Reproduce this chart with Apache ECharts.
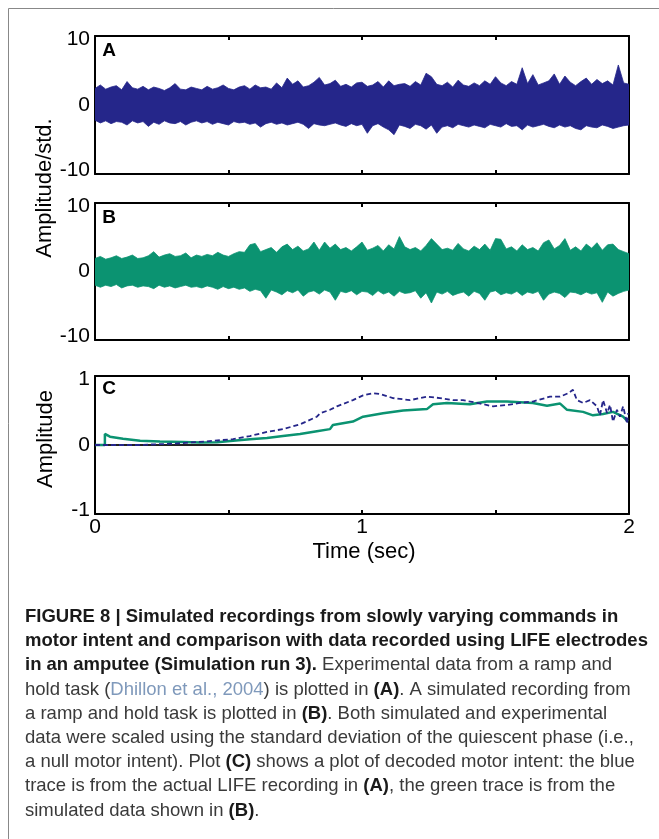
<!DOCTYPE html>
<html>
<head>
<meta charset="utf-8">
<script src="https://cdn.jsdelivr.net/npm/echarts@6/dist/echarts.min.js"></script>
<style>
  html, body { margin: 0; padding: 0; background: #fff; }
  #chart { width: 659px; height: 839px; }
</style>
</head>
<body>
<div id="chart"></div>
<script>
// recordings sampled every 0.02 s, envelope (peak / trough) per sample
const noiseStep = 0.02
const aTop = [
  2.4, 2.9, 2.3, 2.6, 2.8, 2.2, 3.4, 2.5, 2.3, 2.7,
  2.2, 2.6, 2.4, 2.1, 2.5, 3.1, 2.3, 2.2, 2.6, 2.4,
  2.2, 2.7, 2.3, 2.5, 2.9, 2.4, 2.2, 2.6, 2.8, 2.3,
  2.9, 2.5, 2.6, 2.3, 3.2, 2.5, 3.9, 3.0, 3.5, 2.6,
  2.8, 3.3, 4.0, 2.9, 3.1, 3.6, 2.7, 3.0, 2.6, 3.2,
  3.3, 2.7, 2.9, 3.4, 2.6, 3.5, 2.8, 3.0, 3.1, 2.7,
  3.4, 2.9, 4.6, 4.1, 3.0, 2.8, 3.3, 2.6, 3.6, 2.9,
  2.7, 3.2, 2.8, 3.5, 3.0, 4.1, 3.2, 2.8, 3.4, 3.0,
  5.4, 3.1, 4.4, 2.9, 3.2, 3.5, 4.5, 3.0, 4.2, 3.3,
  2.8, 3.4, 3.9, 3.0, 3.7, 3.1, 3.5, 2.9, 5.8, 3.2, 3.0,
]
const aBot = [
  -2.2, -2.6, -2.3, -2.7, -2.4, -2.5, -2.9, -2.3, -2.6, -2.4,
  -3.1, -2.5, -2.8, -2.3, -2.6, -2.7, -2.4, -2.9, -2.5, -2.3,
  -2.6, -2.4, -2.8, -2.5, -2.7, -2.9, -2.4, -2.6, -2.5, -2.8,
  -2.6, -3.2, -2.7, -2.5, -2.8, -2.6, -2.9, -2.7, -2.5, -2.8,
  -3.4, -2.7, -2.9, -3.0, -2.8, -2.6, -2.9, -3.1, -2.7, -3.0,
  -2.8, -4.1, -3.0, -2.7, -3.2, -3.6, -4.3, -2.9, -3.1, -3.4,
  -2.8, -3.0, -3.5, -2.9, -4.1, -3.2, -3.0, -3.3, -2.8, -3.0,
  -3.2, -2.9, -3.1, -3.3, -2.8, -3.0, -3.2, -2.7, -3.1, -3.0,
  -3.6, -2.9, -3.2, -3.0, -2.8, -3.1, -3.3, -2.9, -3.2, -3.0,
  -3.4, -3.6, -3.0, -3.2, -3.3, -2.9, -3.1, -3.4, -3.2, -3.0, -2.9,
]
const bTop = [
  1.9, 2.2, 1.8, 2.0, 2.3, 1.9, 2.1, 2.4, 1.9, 2.0,
  2.3, 2.9, 2.1, 2.4, 2.6, 2.2, 2.3, 2.7, 2.0, 2.4,
  2.2, 2.5, 2.3, 2.8, 2.4, 2.2, 2.6, 2.9, 2.8, 3.9,
  4.1, 2.9, 3.2, 3.5, 2.8, 3.6, 4.0, 3.2, 3.7, 3.0,
  3.3, 4.3, 3.1, 4.3, 3.4, 4.0, 3.2, 3.5, 3.0, 3.6,
  4.3, 3.1, 3.4, 3.8, 3.0, 3.9, 3.3, 5.1, 3.6, 3.2,
  3.5, 3.0, 3.8, 4.8, 4.0, 3.2, 3.4, 3.1, 4.1, 3.3,
  3.0, 3.7, 3.2, 4.0, 3.1, 4.8, 4.7, 3.3, 3.6, 3.0,
  3.9, 3.2, 3.5, 3.0, 4.2, 4.6, 3.3, 3.8, 4.8, 3.1,
  3.6, 3.0, 4.0, 3.4, 4.2, 3.1, 3.9, 4.0, 3.2, 2.9, 2.6,
]
const bBot = [
  -2.0, -2.3, -2.0, -2.2, -1.9, -2.4, -2.1, -2.0, -2.3, -2.1,
  -2.2, -2.5, -2.0, -2.3, -2.1, -2.4, -2.2, -2.0, -2.3, -2.2,
  -2.4, -2.1, -2.3, -2.6, -2.2, -2.5, -2.3, -2.6, -2.4, -2.9,
  -2.6, -2.8, -3.9, -2.7, -3.0, -3.4, -2.8, -3.1, -2.7, -3.6,
  -3.0, -2.8, -3.3, -2.7, -3.0, -4.2, -2.9, -3.1, -2.8, -3.4,
  -2.9, -3.0, -3.5, -2.8, -3.3, -3.0, -3.6, -2.9, -3.2, -3.1,
  -2.8, -3.9, -3.1, -4.6, -3.0, -3.3, -2.9, -3.5, -3.2, -3.0,
  -3.6, -2.9, -3.2, -4.2, -3.0, -2.8, -3.4, -3.1, -3.3, -2.9,
  -3.5, -3.0, -3.2, -2.9, -4.2, -3.3, -3.0, -3.2, -3.8, -3.0,
  -3.1, -3.4, -3.0, -3.3, -3.1, -4.5, -3.0, -3.6, -3.2, -2.9, -2.7,
]

// decoded motor intent (panel C)
const greenT = [0, 0.037, 0.037, 0.056, 0.105, 0.169, 0.243, 0.33, 0.393, 0.457, 0.517, 0.58,
  0.644, 0.704, 0.768, 0.831, 0.88, 0.891, 0.966, 1.004, 1.079, 1.154, 1.243, 1.266,
  1.318, 1.404, 1.468, 1.543, 1.64, 1.693, 1.742, 1.768, 1.828, 1.865, 1.903, 1.94, 1.978, 1.996]
const greenV = [0, 0, 0.16, 0.12, 0.09, 0.06, 0.05, 0.045, 0.035, 0.04, 0.06, 0.085,
  0.1, 0.13, 0.16, 0.2, 0.23, 0.29, 0.34, 0.41, 0.46, 0.5, 0.52, 0.59,
  0.61, 0.59, 0.63, 0.63, 0.61, 0.57, 0.6, 0.51, 0.48, 0.43, 0.45, 0.48, 0.41, 0.34]
const blueT = [0, 0.16, 0.3, 0.442, 0.517, 0.58, 0.644, 0.704, 0.768, 0.831, 0.843, 0.88,
  0.906, 0.966, 1.004, 1.041, 1.067, 1.116, 1.18, 1.243, 1.292, 1.341, 1.378, 1.431,
  1.491, 1.543, 1.592, 1.64, 1.704, 1.742, 1.772, 1.79, 1.805, 1.828, 1.854, 1.88,
  1.891, 1.903, 1.918, 1.929, 1.94, 1.955, 1.966, 1.978, 1.993, 1.996]
const blueV = [0, 0, 0.02, 0.06, 0.085, 0.13, 0.19, 0.23, 0.3, 0.41, 0.46, 0.51,
  0.56, 0.65, 0.72, 0.75, 0.74, 0.68, 0.65, 0.7, 0.68, 0.65, 0.65, 0.61,
  0.56, 0.58, 0.61, 0.63, 0.7, 0.7, 0.75, 0.8, 0.65, 0.61, 0.65, 0.56,
  0.43, 0.65, 0.46, 0.58, 0.34, 0.51, 0.41, 0.56, 0.31, 0.46]

const xTickLabels = ['0', '1', '2']
const yTicksAB = [-10, 0, 10]
const yTicksC = [-1, 0, 1]

const BLUE = '#25268a'
const GREEN = '#0b9371'
const FONT = 'Liberation Sans, Arial, sans-serif'

const chart = echarts.init(document.getElementById('chart'))

const grids = [
  { left: 95, top: 36, width: 534, height: 138 },
  { left: 95, top: 203, width: 534, height: 137 },
  { left: 95, top: 376, width: 534, height: 138 },
]

const boxLine = { show: true, onZero: false, lineStyle: { color: '#000', width: 2 } }
const tickFont = { fontSize: 21, fontFamily: FONT, color: '#000' }

const xAxis = []
const yAxis = []
grids.forEach((g, i) => {
  const last = i === 2
  xAxis.push({
    type: 'value', gridIndex: i, min: 0, max: 2, interval: 0.5, position: 'bottom',
    axisLine: boxLine,
    axisTick: { show: true, inside: true, length: 4, lineStyle: { color: '#000', width: 2 } },
    axisLabel: {
      show: last, margin: 3, ...tickFont,
      formatter: (v) => (xTickLabels.includes(String(v)) ? String(v) : ''),
    },
    splitLine: { show: false },
  })
  xAxis.push({
    type: 'value', gridIndex: i, min: 0, max: 2, interval: 0.5, position: 'top',
    axisLine: boxLine,
    axisTick: { show: true, inside: true, length: 4, lineStyle: { color: '#000', width: 2 } },
    axisLabel: { show: false },
    splitLine: { show: false },
  })
  const ticks = last ? yTicksC : yTicksAB
  yAxis.push({
    type: 'value', gridIndex: i, position: 'left',
    min: ticks[0], max: ticks[2], interval: ticks[2],
    axisLine: boxLine,
    axisTick: { show: true, inside: true, length: 4, lineStyle: { color: '#000', width: 2 } },
    axisLabel: {
      margin: 5, ...tickFont,
      // end labels sit a little inside the box, as in the original
      formatter: (v) => (v === ticks[2] ? `{hi|${v}}` : v === ticks[0] ? `{lo|${v}}` : `${v}`),
      rich: {
        hi: { ...tickFont, padding: [7, 0, 0, 0] },
        lo: { ...tickFont, padding: [0, 0, 7, 0] },
      },
    },
    splitLine: { show: false },
  })
  yAxis.push({
    type: 'value', gridIndex: i, position: 'right',
    min: ticks[0], max: ticks[2], interval: ticks[2],
    axisLine: boxLine,
    axisTick: { show: false },
    axisLabel: { show: false },
    splitLine: { show: false },
  })
})

// noise band: polygon through the peaks, back along the troughs
function band(top, bot, color, axis) {
  return {
    type: 'custom', coordinateSystem: 'cartesian2d', xAxisIndex: axis, yAxisIndex: axis,
    silent: true, animation: false, clip: true,
    data: [[1, 0]],
    renderItem(params, api) {
      const pts = top.map((v, i) => api.coord([i * noiseStep, v]))
      for (let i = bot.length - 1; i >= 0; i--) pts.push(api.coord([i * noiseStep, bot[i]]))
      return {
        type: 'polygon',
        shape: { points: pts },
        style: { fill: color, stroke: color, lineWidth: 0.8 },
      }
    },
  }
}

const series = [
  band(aTop, aBot, BLUE, 0),
  band(bTop, bBot, GREEN, 2),
  {
    // zero reference line
    type: 'line', xAxisIndex: 4, yAxisIndex: 4, symbol: 'none', animation: false,
    data: [[0, 0], [2, 0]],
    lineStyle: { color: '#222', width: 2 },
  },
  {
    name: 'simulated', type: 'line', xAxisIndex: 4, yAxisIndex: 4, symbol: 'none', animation: false,
    data: greenT.map((t, i) => [t, greenV[i]]),
    lineStyle: { color: GREEN, width: 2.5 },
  },
  {
    name: 'LIFE', type: 'line', xAxisIndex: 4, yAxisIndex: 4, symbol: 'none', animation: false,
    data: blueT.map((t, i) => [t, blueV[i]]),
    lineStyle: { color: BLUE, width: 1.8, type: [5, 3] },
  },
]

const CAP = 18.5
const capBold = { fontFamily: FONT, fontSize: CAP, fontWeight: 'bold', fill: '#1a1a1a' }
const capReg = { fontFamily: FONT, fontSize: CAP, fill: '#3a3a3a' }
const capLink = { fontFamily: FONT, fontSize: CAP, fill: '#7f99bb' }

const captionLines = [
  '{b|FIGURE 8 | Simulated recordings from slowly varying commands in}',
  '{b|motor intent and comparison with data recorded using LIFE electrodes}',
  '{b|in an amputee (Simulation run 3).}{r| Experimental data from a ramp and}',
  '{r|hold task (}{l|Dhillon et al., 2004}{r|) is plotted in }{b|(A)}{r|. A simulated recording from}',
  '{r|a ramp and hold task is plotted in }{b|(B)}{r|. Both simulated and experimental}',
  '{r|data were scaled using the standard deviation of the quiescent phase (i.e.,}',
  '{r|a null motor intent). Plot }{b|(C)}{r| shows a plot of decoded motor intent: the blue}',
  '{r|trace is from the actual LIFE recording in }{b|(A)}{r|, the green trace is from the}',
  '{r|simulated data shown in }{b|(B)}{r|.}',
]

const label = (text, x, y, extra) => ({
  type: 'text', x, y, silent: true,
  style: { text, fontFamily: FONT, fill: '#000', align: 'center', verticalAlign: 'middle', ...extra },
})

const graphic = [
  // figure frame
  { type: 'line', shape: { x1: 8.5, y1: 8.5, x2: 659, y2: 8.5 }, style: { stroke: '#888', lineWidth: 1 } },
  { type: 'line', shape: { x1: 8.5, y1: 8.5, x2: 8.5, y2: 839 }, style: { stroke: '#888', lineWidth: 1 } },
  label('A', 109, 51, { fontSize: 19, fontWeight: 'bold' }),
  label('B', 109, 218, { fontSize: 19, fontWeight: 'bold' }),
  label('C', 109, 389, { fontSize: 19, fontWeight: 'bold' }),
  { ...label('Amplitude/std.', 45, 188, { fontSize: 22 }), rotation: Math.PI / 2 },
  { ...label('Amplitude', 46, 439, { fontSize: 22 }), rotation: Math.PI / 2 },
  label('Time (sec)', 364, 552, { fontSize: 22 }),
  ...captionLines.map((t, i) => ({
    type: 'text', x: 25, y: 617 + i * 24.2, silent: true,
    style: { text: t, align: 'left', verticalAlign: 'middle', rich: { b: capBold, r: capReg, l: capLink } },
  })),
]

chart.setOption({
  animation: false,
  backgroundColor: '#fff',
  grid: grids,
  xAxis,
  yAxis,
  series,
  graphic,
})
</script>
</body>
</html>
